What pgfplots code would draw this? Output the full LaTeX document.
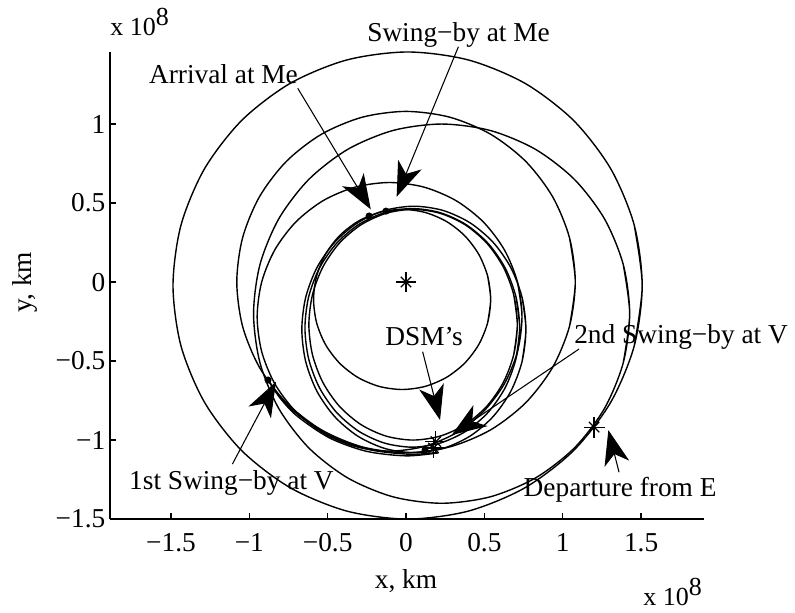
\documentclass[border=0pt]{standalone}
\usepackage{fontspec}
\setmainfont{Liberation Serif}
\usepackage{pgfplots}
\pgfplotsset{compat=1.18}
\usetikzlibrary{arrows.meta}
\begin{document}
\begin{tikzpicture}[font=\fontsize{20.5}{24}\selectfont]
\begin{axis}[
  scale only axis, width=445.5pt, height=350.25pt,
  xmin=-1.889, xmax=1.902, ymin=-1.5, ymax=1.456,
  axis x line*=bottom, axis y line*=left,
  tick align=inside, major tick length=4.5pt,
  xtick={-1.5,-1,-0.5,0,0.5,1,1.5},
  xticklabels={−1.5,−1,−0.5,0,0.5,1,1.5},
  ytick={-1.5,-1,-0.5,0,0.5,1},
  yticklabels={−1.5,−1,−0.5,0,0.5,1},
  xticklabel style={yshift=-7.5pt},
  /pgf/number format/assume math mode=true,
  axis line style={line width=1pt},
  tick style={line width=1pt, black},
  clip=false,
  every axis plot/.append style={black, line width=1.05pt},
]
% Earth orbit
\addplot[smooth] coordinates {(1.456,-0.4045) (1.507,-0.022) (1.456,0.3605) (1.306,0.717) (1.0685,1.0231) (0.7585,1.258) (0.3974,1.4056) (0.01,1.456) (-0.3774,1.4056) (-0.7385,1.258) (-1.0485,1.0231) (-1.286,0.717) (-1.436,0.3605) (-1.487,-0.022) (-1.436,-0.4045) (-1.286,-0.761) (-1.0485,-1.0671) (-0.7385,-1.302) (-0.3774,-1.4496) (0.01,-1.5) (0.3974,-1.4496) (0.7585,-1.302) (1.0685,-1.0671) (1.306,-0.761) (1.456,-0.4045) (1.507,-0.022) (1.456,0.3605)};
% Venus orbit
\addplot[smooth] coordinates {(1.0432,-0.2795) (1.08,0) (1.0432,0.2795) (0.9353,0.54) (0.7637,0.7637) (0.54,0.9353) (0.2795,1.0432) (0,1.08) (-0.2795,1.0432) (-0.54,0.9353) (-0.7637,0.7637) (-0.9353,0.54) (-1.0432,0.2795) (-1.08,0) (-1.0432,-0.2795) (-0.9353,-0.54) (-0.7637,-0.7637) (-0.54,-0.9353) (-0.2795,-1.0432) (0,-1.08) (0.2795,-1.0432) (0.54,-0.9353) (0.7637,-0.7637) (0.9353,-0.54) (1.0432,-0.2795) (1.08,0) (1.0432,0.2795)};
% Mercury orbit
\addplot[smooth] coordinates {(0.5207,-0.2575) (0.54,-0.11) (0.5207,0.0375) (0.4643,0.175) (0.3745,0.293) (0.2575,0.3836) (0.1212,0.4406) (-0.025,0.46) (-0.1712,0.4406) (-0.3075,0.3836) (-0.4245,0.293) (-0.5143,0.175) (-0.5707,0.0375) (-0.59,-0.11) (-0.5707,-0.2575) (-0.5143,-0.395) (-0.4245,-0.513) (-0.3075,-0.6036) (-0.1712,-0.6606) (-0.025,-0.68) (0.1212,-0.6606) (0.2575,-0.6036) (0.3745,-0.513) (0.4643,-0.395) (0.5207,-0.2575) (0.54,-0.11) (0.5207,0.0375)};
% Earth -> Venus transfer
\addplot[smooth] coordinates {(1.3861,-0.5106) (1.427,-0.2) (1.3861,0.1106) (1.2662,0.4) (1.0755,0.6485) (0.827,0.8392) (0.5376,0.9591) (0.227,1.0) (-0.0836,0.9591) (-0.373,0.8392) (-0.6215,0.6485) (-0.8122,0.4) (-0.9321,0.1106) (-0.973,-0.2) (-0.9321,-0.5106) (-0.8122,-0.8) (-0.6215,-1.0485) (-0.373,-1.2392) (-0.0836,-1.3591) (0.227,-1.4) (0.5376,-1.3591) (0.827,-1.2392) (1.0755,-1.0485) (1.2662,-0.8) (1.3861,-0.5106) (1.427,-0.2) (1.3861,0.1106)};
% Venus -> Venus / Mercury transfers
\addplot[smooth] coordinates {(0.7112,-0.44) (0.74,-0.22) (0.7112,0.0) (0.6268,0.205) (0.4925,0.381) (0.3175,0.5161) (0.1137,0.601) (-0.105,0.63) (-0.3237,0.601) (-0.5275,0.5161) (-0.7025,0.381) (-0.8368,0.205) (-0.9212,0.0) (-0.95,-0.22) (-0.9212,-0.44) (-0.8368,-0.645) (-0.7025,-0.821) (-0.5275,-0.9561) (-0.3237,-1.041) (-0.105,-1.07) (0.1137,-1.041) (0.3175,-0.9561) (0.4925,-0.821) (0.6268,-0.645) (0.7112,-0.44) (0.74,-0.22) (0.7112,0.0)};
\addplot[smooth] coordinates {(0.7406,-0.5019) (0.765,-0.3) (0.7406,-0.0981) (0.6692,0.09) (0.5556,0.2515) (0.4075,0.3755) (0.235,0.4534) (0.05,0.48) (-0.135,0.4534) (-0.3075,0.3755) (-0.4556,0.2515) (-0.5692,0.09) (-0.6406,-0.0981) (-0.665,-0.3) (-0.6406,-0.5019) (-0.5692,-0.69) (-0.4556,-0.8515) (-0.3075,-0.9755) (-0.135,-1.0534) (0.05,-1.08) (0.235,-1.0534) (0.4075,-0.9755) (0.5556,-0.8515) (0.6692,-0.69) (0.7406,-0.5019) (0.765,-0.3) (0.7406,-0.0981)};
\addplot[smooth] coordinates {(0.7016,-0.4854) (0.725,-0.29) (0.7016,-0.0946) (0.6332,0.0875) (0.5244,0.2439) (0.3825,0.3638) (0.2173,0.4392) (0.04,0.465) (-0.1373,0.4392) (-0.3025,0.3638) (-0.4444,0.2439) (-0.5532,0.0875) (-0.6216,-0.0946) (-0.645,-0.29) (-0.6216,-0.4854) (-0.5532,-0.6675) (-0.4444,-0.8239) (-0.3025,-0.9438) (-0.1373,-1.0192) (0.04,-1.045) (0.2173,-1.0192) (0.3825,-0.9438) (0.5244,-0.8239) (0.6332,-0.6675) (0.7016,-0.4854) (0.725,-0.29) (0.7016,-0.0946)};
\addplot[smooth] coordinates {(0.6873,-0.4589) (0.71,-0.27) (0.6873,-0.0811) (0.6209,0.095) (0.5152,0.2462) (0.3775,0.3622) (0.2171,0.4351) (0.045,0.46) (-0.1271,0.4351) (-0.2875,0.3622) (-0.4252,0.2462) (-0.5309,0.095) (-0.5973,-0.0811) (-0.62,-0.27) (-0.5973,-0.4589) (-0.5309,-0.635) (-0.4252,-0.7862) (-0.2875,-0.9022) (-0.1271,-0.9751) (0.045,-1.0) (0.2171,-0.9751) (0.3775,-0.9022) (0.5152,-0.7862) (0.6209,-0.635) (0.6873,-0.4589) (0.71,-0.27) (0.6873,-0.0811)};
% arcs from 1st swing-by to the DSMs
\addplot[smooth] coordinates {(-0.879,-0.6226) (-0.8012,-0.7376) (-0.6915,-0.851) (-0.489,-0.9861) (-0.2531,-1.071) (0,-1.1) (0.2033,-1.0814)};
\addplot[smooth] coordinates {(-0.8797,-0.6204) (-0.8064,-0.7233) (-0.692,-0.8381) (-0.4805,-0.9748) (-0.2342,-1.0607) (0.03,-1.09) (0.2072,-1.0769)};
% event points
\addplot[only marks, mark=*, mark size=2.1pt] coordinates {(-0.236,0.418) (-0.128,0.449) (-0.881,-0.62) (0.121,-1.063)};
\addplot[only marks, mark=+, mark size=7.8pt, line width=0.9pt] coordinates {(0,0) (1.2,-0.918) (0.19,-1.01) (0.175,-1.05)};
\addplot[only marks, mark=x, mark size=5.5pt, line width=0.9pt] coordinates {(0,0) (1.2,-0.918) (0.19,-1.01) (0.175,-1.05)};
% annotations
\tikzset{ann/.style={line width=0.8pt, -{Stealth[length=26pt,width=19pt,inset=7.5pt]}}}
\draw[ann] (axis cs:-0.691,1.226) -- (axis cs:-0.225,0.46);
\draw[ann] (axis cs:0.334,1.489) -- (axis cs:-0.06,0.54);
\draw[ann] (axis cs:0.106,-0.441) -- (axis cs:0.217,-0.873);
\draw[ann] (axis cs:1.104,-0.424) -- (axis cs:0.2916,-0.968);
\draw[ann] (axis cs:-1.108,-1.152) -- (axis cs:-0.83,-0.631);
\draw[ann] (axis cs:1.359,-1.203) -- (axis cs:1.291,-0.937);
\node[anchor=base] at (axis cs:-1.165,1.259) {Arrival at Me};
\node[anchor=base] at (axis cs:0.335,1.521) {Swing−by at Me};
\node[anchor=base] at (axis cs:0.115,-0.399) {DSM’s};
\node[anchor=base] at (axis cs:1.755,-0.388) {2nd Swing−by at V};
\node[anchor=base] at (axis cs:-1.114,-1.316) {1st Swing−by at V};
\node[anchor=base] at (axis cs:1.366,-1.359) {Departure from E};
\node[anchor=base] at (axis cs:0,-1.937) {x, km};
\node[anchor=base, rotate=90] at (axis cs:-2.387,0) {y, km};
\node[anchor=base west, inner sep=0pt, font=\fontsize{19.5}{22}\selectfont] at (axis cs:-1.889,1.563) {x 10\raisebox{7.5pt}{8}};
\node[anchor=base east, inner sep=0pt, font=\fontsize{19.5}{22}\selectfont] at (axis cs:1.89,-2.044) {x 10\raisebox{7.5pt}{8}};
\coordinate (bbsw) at (axis cs:-2.591,-2.089);
\coordinate (bbne) at (axis cs:2.482,1.785);
\end{axis}
\pgfresetboundingbox
\path (bbsw) rectangle (bbne);
\end{tikzpicture}
\end{document}
